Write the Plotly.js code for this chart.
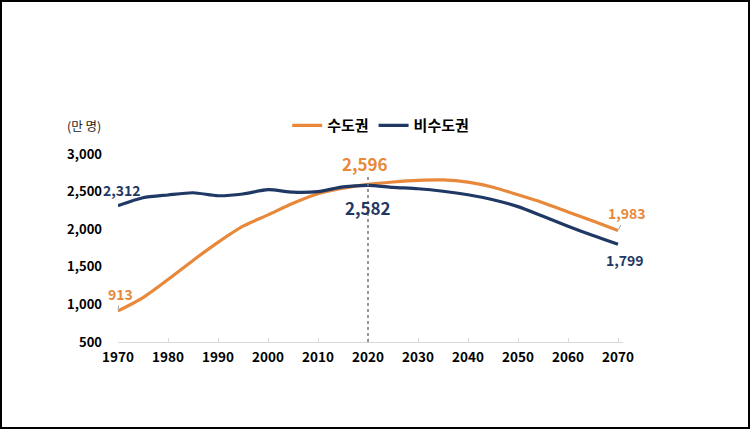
<!DOCTYPE html>
<html>
<head>
<meta charset="utf-8">
<script src="https://cdn.plot.ly/plotly-3.0.1.min.js"></script>
<style>
html,body{margin:0;padding:0;background:#fff;}
#wrap{position:relative;width:750px;height:429px;}
#chart{width:750px;height:429px;}
#frame{position:absolute;left:0;top:0;width:750px;height:429px;box-sizing:border-box;border:2px solid #000;pointer-events:none;}
</style>
</head>
<body>
<div id="wrap"><div id="chart"></div><div id="frame"></div></div>
<script>
const years = [1970,1975,1980,1985,1990,1995,2000,2005,2010,2015,2020,2025,2030,2035,2040,2045,2050,2055,2060,2065,2070];
const capital = [913,1090,1330,1585,1825,2040,2190,2345,2472,2545,2596,2628,2650,2655,2625,2558,2458,2352,2230,2108,1983];
const nonCapital = [2312,2418,2455,2485,2445,2468,2525,2492,2500,2562,2582,2556,2538,2505,2458,2392,2300,2172,2040,1915,1799];
const seriesNames = ['수도권','비수도권'];
const unitLabel = '(만 명)';
const xTicks = [1970,1980,1990,2000,2010,2020,2030,2040,2050,2060,2070];
const yTicks = [500,1000,1500,2000,2500,3000];

const ORANGE = '#E8883A';
const NAVY = '#1F3864';
const FONT = '"Noto Sans CJK KR", "Noto Sans", sans-serif';
const fmt = v => v.toLocaleString('en-US');

const iStart = 0, iMid = years.indexOf(2020), iEnd = years.length - 1;

const traces = [
  {x: years, y: capital, name: seriesNames[0], mode: 'lines', type: 'scatter',
   line: {color: ORANGE, width: 3.2, shape: 'spline', smoothing: 0.7}},
  {x: years, y: nonCapital, name: seriesNames[1], mode: 'lines', type: 'scatter',
   line: {color: NAVY, width: 3.2, shape: 'spline', smoothing: 0.7}}
];

const annotations = [
  {x: years[iMid], y: capital[iMid], text: fmt(capital[iMid]), showarrow: false, xshift: -3, yshift: 21,
   font: {family: FONT, size: 17, color: ORANGE, weight: 'bold'}},
  {x: years[iMid], y: nonCapital[iMid], text: fmt(nonCapital[iMid]), showarrow: false, xshift: 0, yshift: -22,
   font: {family: FONT, size: 17, color: NAVY, weight: 'bold'}},
  {x: years[iStart], y: nonCapital[iStart], text: fmt(nonCapital[iStart]), showarrow: false, xshift: 4, yshift: 16,
   font: {family: FONT, size: 14, color: NAVY, weight: 600}},
  {x: years[iStart], y: capital[iStart], text: fmt(capital[iStart]), showarrow: true, arrowhead: 0, arrowwidth: 1,
   arrowcolor: '#a6a6a6', ax: 2, ay: -17, standoff: 1,
   font: {family: FONT, size: 14, color: ORANGE, weight: 600}},
  {x: years[iEnd], y: capital[iEnd], text: fmt(capital[iEnd]), showarrow: true, arrowhead: 0, arrowwidth: 1,
   arrowcolor: '#a6a6a6', ax: 9, ay: -17, standoff: 1,
   font: {family: FONT, size: 14, color: ORANGE, weight: 600}},
  {x: years[iEnd], y: nonCapital[iEnd], text: fmt(nonCapital[iEnd]), showarrow: false, xshift: 7, yshift: -16,
   font: {family: FONT, size: 14, color: NAVY, weight: 'bold'}},
  {xref: 'paper', yref: 'paper', x: -0.067, y: 1.151, xanchor: 'center', yanchor: 'middle',
   text: unitLabel, showarrow: false, font: {family: FONT, size: 12.5, color: '#222'}}
];

const layout = {
  width: 750, height: 429,
  margin: {l: 118, r: 127, t: 153.5, b: 87},
  paper_bgcolor: '#fff', plot_bgcolor: '#fff',
  font: {family: FONT, color: '#000'},
  showlegend: true,
  legend: {orientation: 'h', x: 0.335, y: 1.151, xanchor: 'left', yanchor: 'middle',
           font: {family: FONT, size: 15, color: '#000', weight: 'bold'},
           itemwidth: 30, tracegroupgap: 0, bgcolor: 'rgba(0,0,0,0)'},
  xaxis: {range: [1970, 2071], tickmode: 'array', tickvals: xTicks, ticktext: xTicks.map(String),
          showgrid: false, zeroline: false, showline: true, linecolor: '#d9d9d9', linewidth: 1,
          ticks: 'inside', ticklen: 4, tickcolor: '#d9d9d9', ticklabelstandoff: 3,
          tickfont: {family: FONT, size: 13.5, color: '#000', weight: 'bold'}},
  yaxis: {range: [500, 3000], tickmode: 'array', tickvals: yTicks, ticktext: yTicks.map(fmt),
          showgrid: false, zeroline: false, showline: false, ticks: '', ticklabelstandoff: 15,
          tickfont: {family: FONT, size: 13, color: '#000', weight: 'bold'}},
  shapes: [{type: 'line', xref: 'x', yref: 'y', x0: years[iMid], x1: years[iMid], y0: 500, y1: 2715,
            line: {color: '#7f7f7f', width: 1.6, dash: 'dot'}}],
  annotations: annotations
};

Plotly.newPlot('chart', traces, layout, {displayModeBar: false, staticPlot: true});
</script>
</body>
</html>
